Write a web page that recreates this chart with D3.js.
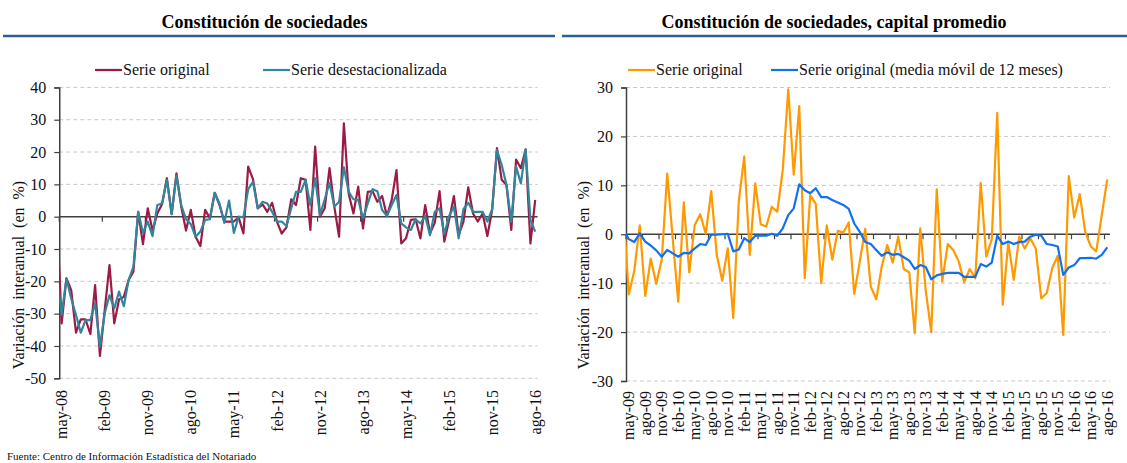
<!DOCTYPE html>
<html>
<head>
<meta charset="utf-8">
<script src="https://cdn.jsdelivr.net/npm/d3@7"></script>
<style>
  body { margin: 0; background: #fff; }
  svg { display: block; }
  svg text { font-family: "Liberation Serif", "Times New Roman", serif; }
</style>
</head>
<body>
<div id="chart"></div>
<script>
// month labels, Spanish short names
const monthNames = ["ene", "feb", "mar", "abr", "may", "jun", "jul", "ago", "sep", "oct", "nov", "dic"];
function monthLabels(year, month, n) {
  const out = [];
  for (let i = 0; i < n; i++) {
    const m = (month + i) % 12;
    const y = year + Math.floor((month + i) / 12);
    out.push(monthNames[m] + "-" + String(y % 100).padStart(2, "0"));
  }
  return out;
}

// left chart: may-08 .. ago-16
const leftCategories = monthLabels(2008, 4, 100);
const leftOriginal = [
  -33.0, -19.1, -22.7, -35.9, -31.8, -31.8, -36.3, -21.2, -43.1, -29.0,
  -15.0, -33.0, -25.6, -24.8, -19.6, -17.0, 1.5, -8.5, 2.6, -4.3,
  1.0, 3.9, 11.9, 0.8, 13.4, 3.1, -4.3, 2.1, -6.2, -9.1,
  2.1, -0.5, 7.4, 3.6, -1.5, -1.5, -1.5, -0.2, -5.2, 15.5,
  11.6, 2.6, 3.8, 1.5, 4.3, -1.5, -5.2, -3.3, 5.4, 3.6,
  11.9, 11.4, -4.1, 21.7, 0.0, 2.6, 15.0, 3.1, -6.2, 28.9,
  7.2, 1.0, 9.3, -3.6, 7.7, 7.9, 4.6, 6.4, 0.2, 5.2,
  14.4, -8.3, -6.7, -1.0, -0.8, -6.7, 3.6, -5.2, -1.9, 7.9,
  -7.7, -1.0, 6.4, -5.7, -1.5, 9.1, 1.0, -1.5, 1.0, -6.0,
  2.1, 21.2, 11.4, 9.8, -4.1, 17.7, 15.0, 20.8, -8.3, 5.2
];
const leftDesest = [
  -30.4, -19.1, -25.3, -30.4, -35.9, -32.0, -32.0, -26.8, -40.2, -29.9,
  -24.3, -28.4, -23.2, -27.7, -19.6, -15.5, 1.5, -5.0, -1.5, -6.0,
  3.6, 4.1, 11.4, 0.8, 12.6, 3.6, -0.8, -2.3, -6.2, -4.6,
  -1.0, -0.8, 7.4, 4.1, -1.9, 5.0, -5.0, 0.0, -0.2, 8.5,
  10.8, 2.6, 4.6, 4.1, 1.5, -1.5, -1.5, -2.9, 2.6, 7.7,
  7.7, 11.4, 3.6, 11.9, 0.5, 5.4, 10.5, 3.1, 4.6, 15.3,
  7.7, 5.4, 5.2, -0.5, 4.1, 8.5, 7.9, 2.1, 0.2, 3.6,
  6.7, -2.1, -3.3, -4.1, -0.8, -2.1, 0.2, -5.7, 1.5, 2.6,
  -5.4, 0.2, 3.1, -6.7, 2.3, 4.3, 1.5, 1.5, 1.5, -1.5,
  2.3, 20.6, 16.0, 9.8, -1.5, 15.5, 10.3, 20.8, -1.0, -4.6
];
// value of the month before the first category (line is cut at the axis)
const leftLead = [1, -18];
const leftTicks = [-50, -40, -30, -20, -10, 0, 10, 20, 30, 40];

// right chart: may-09 .. ago-16
const rightCategories = monthLabels(2009, 4, 88);
const rightOriginal = [
  -12.3, -7.5, 1.8, -12.6, -5.0, -10.1, -5.2, 12.4, -1.0, -13.8,
  6.5, -7.8, 1.9, 4.1, 0.1, 8.8, -4.2, -9.5, -2.9, -17.1,
  6.7, 15.9, -4.2, 10.4, 2.0, 1.6, 5.6, 4.6, 13.1, 29.6,
  12.2, 26.2, -9.0, 8.0, 6.2, -10.0, 1.8, -5.2, 0.7, 0.3,
  2.4, -12.2, -5.6, 1.1, -10.7, -13.3, -6.6, -2.2, -5.8, -0.5,
  -7.1, -7.8, -20.2, 1.2, -11.5, -20.0, 9.2, -9.7, -2.0, -3.2,
  -5.6, -9.8, -7.1, -9.0, 10.5, -4.6, -1.0, 24.8, -14.4, -1.7,
  -9.3, -0.5, -2.9, -0.8, -2.9, -13.1, -12.0, -6.9, -4.4, -20.6,
  11.9, 3.4, 8.2, 0.5, -2.5, -3.5, 3.9, 11.2
];
const rightMovingAvg = [
  -1.0, -1.6, 0.2, -1.5, -2.3, -3.3, -4.6, -3.2, -3.9, -4.6,
  -3.8, -3.9, -2.9, -2.0, -2.2, -0.1, -0.1, 0.0, 0.1, -3.5,
  -3.1, -0.8, -1.6, -0.3, -0.3, -0.3, 0.1, -0.3, 1.2, 3.9,
  5.3, 10.2, 9.0, 8.4, 9.4, 7.6, 7.6, 7.0, 6.5, 6.0,
  5.2, 2.2, 0.5, -1.6, -2.0, -3.2, -4.4, -3.7, -4.2, -4.0,
  -4.7, -5.4, -7.1, -6.3, -6.7, -9.2, -8.4, -8.1, -7.9, -7.9,
  -7.9, -8.7, -8.7, -8.7, -6.1, -6.6, -5.8, -0.3, -2.0, -1.5,
  -2.0, -1.6, -1.5, -0.5, -0.1, -0.3, -2.0, -2.2, -2.5, -8.3,
  -6.8, -6.3, -4.9, -4.9, -4.8, -5.0, -4.2, -2.7
];
const rightLead = [6, 1];
const rightTicks = [-30, -20, -10, 0, 10, 20, 30];

const W = 1127, H = 463;
const font = "'Liberation Serif', 'Times New Roman', serif";
const axisColor = "#404040";

const svg = d3.select("#chart").append("svg")
  .attr("width", W)
  .attr("height", H)
  .attr("font-family", font);

// titles and blue rules
svg.append("text").attr("x", 264.5).attr("y", 28).attr("text-anchor", "middle")
  .attr("font-family", font)
  .attr("font-size", 18).attr("font-weight", "bold").text("Constitución de sociedades");
svg.append("text").attr("x", 834).attr("y", 28).attr("text-anchor", "middle")
  .attr("font-family", font)
  .attr("font-size", 18).attr("font-weight", "bold").text("Constitución de sociedades, capital promedio");
svg.append("line").attr("x1", 3).attr("x2", 555).attr("y1", 36).attr("y2", 36)
  .attr("stroke", "#2f5f90").attr("stroke-width", 2.5);
svg.append("line").attr("x1", 562).attr("x2", 1127).attr("y1", 36).attr("y2", 36)
  .attr("stroke", "#2f5f90").attr("stroke-width", 2.5);

function drawPanel(opt) {
  const g = svg.append("g").attr("font-family", font);
  const n = opt.categories.length;
  const x = d3.scaleLinear().domain([0, n]).range([opt.x0, opt.x1]);
  const y = d3.scaleLinear().domain(d3.extent(opt.ticks)).range([opt.yBottom, opt.yTop]);

  // gridlines
  g.selectAll(".grid").data(opt.ticks.filter(t => t !== 0)).enter()
    .append("line")
    .attr("x1", x(0)).attr("x2", x(n))
    .attr("y1", d => y(d)).attr("y2", d => y(d))
    .attr("stroke", "#c8c8c8").attr("stroke-width", 1)
    .attr("stroke-dasharray", "4,3");

  // y axis
  const ya = g.append("g")
    .attr("transform", `translate(${x(0)},0)`)
    .call(d3.axisLeft(y).tickValues(opt.ticks).tickSize(5).tickPadding(8).tickFormat(d => String(d)));
  ya.attr("font-family", font);
  ya.select(".domain").attr("stroke", axisColor).attr("stroke-width", 1.5);
  ya.selectAll(".tick line").attr("stroke", axisColor).attr("stroke-width", 1.2);
  ya.selectAll(".tick text").attr("font-family", font).attr("font-size", 16).attr("fill", "#111");

  // x axis on the zero line
  g.append("line")
    .attr("x1", x(0)).attr("x2", x(n))
    .attr("y1", y(0)).attr("y2", y(0))
    .attr("stroke", axisColor).attr("stroke-width", 1.5);
  const tickIdx = d3.range(0, n, opt.every);
  g.selectAll(".xt").data(tickIdx).enter()
    .append("line")
    .attr("x1", d => x(d)).attr("x2", d => x(d))
    .attr("y1", y(0)).attr("y2", y(0) + 5)
    .attr("stroke", axisColor).attr("stroke-width", 1.2);
  g.selectAll(".xl").data(tickIdx).enter()
    .append("text")
    .attr("transform", d => `translate(${x(d + 0.5)},${opt.labelY}) rotate(-90)`)
    .attr("text-anchor", "end")
    .attr("dy", "0.35em")
    .attr("font-family", font)
    .attr("font-size", 16)
    .attr("fill", "#111")
    .text(d => opt.categories[d]);

  // y axis title
  g.append("text")
    .attr("transform", `translate(${opt.titleX},275) rotate(-90)`)
    .attr("text-anchor", "middle")
    .attr("font-family", font)
    .attr("font-size", 16)
    .attr("fill", "#111")
    .attr("word-spacing", 4)
    .text("Variación interanual (en %)");

  // series, clipped to the plot area
  const clipId = "clip" + opt.id;
  svg.append("clipPath").attr("id", clipId).append("rect")
    .attr("x", x(0)).attr("y", opt.yTop - 5)
    .attr("width", x(n) - x(0)).attr("height", opt.yBottom - opt.yTop + 10);
  const line = d3.line().x(d => x(d[0] + 0.5)).y(d => y(d[1]));
  opt.series.forEach(s => {
    const pts = [[-1, s.lead]].concat(s.values.map((v, i) => [i, v]));
    g.append("path")
      .attr("clip-path", `url(#${clipId})`)
      .attr("d", line(pts))
      .attr("fill", "none")
      .attr("stroke", s.color)
      .attr("stroke-width", 2.2)
      .attr("stroke-linejoin", "round");
  });

  // legend
  opt.series.forEach(s => {
    g.append("line")
      .attr("x1", s.lx).attr("x2", s.lx + 27).attr("y1", 70).attr("y2", 70)
      .attr("stroke", s.color).attr("stroke-width", 2.2);
    g.append("text")
      .attr("x", s.lx + 28).attr("y", 75)
      .attr("font-family", font)
      .attr("font-size", 16).attr("fill", "#111")
      .text(s.name);
  });
}

drawPanel({
  id: "L",
  categories: leftCategories,
  ticks: leftTicks,
  every: 9,
  x0: 59.25, x1: 537.6,
  yTop: 87.4, yBottom: 378.3,
  labelY: 390,
  titleX: 24,
  series: [
    { name: "Serie original", values: leftOriginal, lead: leftLead[0], color: "#9c1b44", lx: 95 },
    { name: "Serie desestacionalizada", values: leftDesest, lead: leftLead[1], color: "#31859c", lx: 263 }
  ]
});

drawPanel({
  id: "R",
  categories: rightCategories,
  ticks: rightTicks,
  every: 3,
  x0: 626, x1: 1110,
  yTop: 87.5, yBottom: 381,
  labelY: 391,
  titleX: 589,
  series: [
    { name: "Serie original", values: rightOriginal, lead: rightLead[0], color: "#ff9900", lx: 628 },
    { name: "Serie original (media móvil de 12 meses)", values: rightMovingAvg, lead: rightLead[1], color: "#1170f0", lx: 771 }
  ]
});

// source note
svg.append("text")
  .attr("x", 7).attr("y", 460)
  .attr("font-family", font)
  .attr("font-size", 11)
  .attr("fill", "#111")
  .text("Fuente: Centro de Información Estadística del Notariado");
</script>
</body>
</html>
